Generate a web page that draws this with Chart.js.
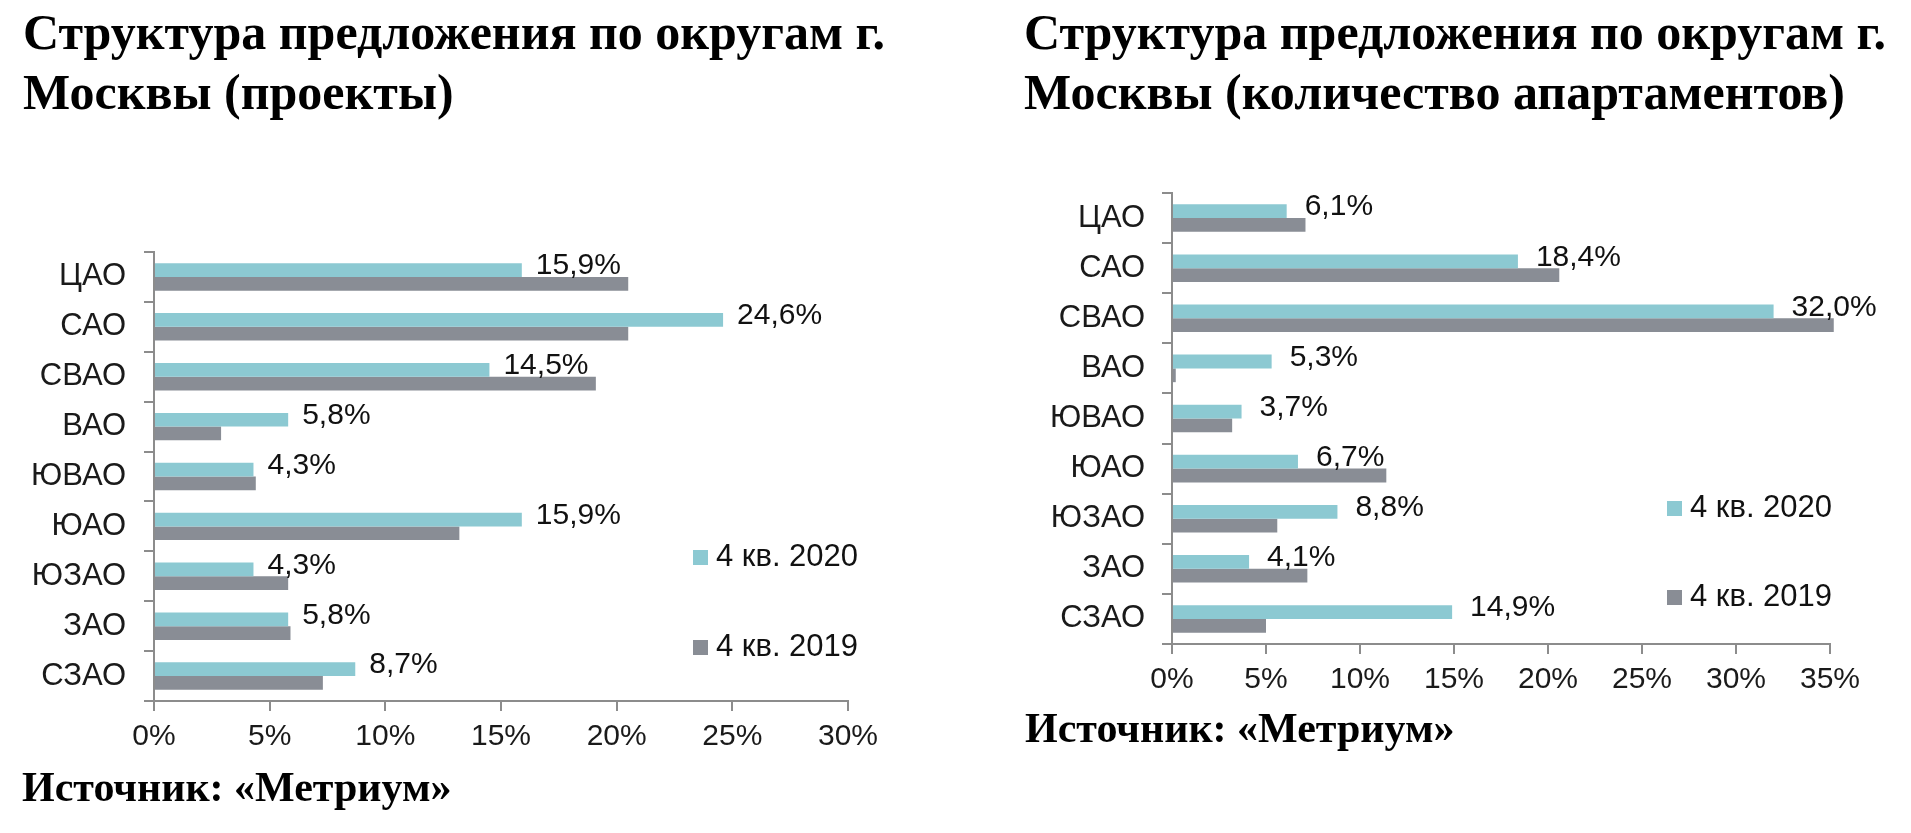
<!DOCTYPE html>
<html>
<head>
<meta charset="utf-8">
<script src="https://cdn.jsdelivr.net/npm/chart.js"></script>
<style>
  body { margin: 0; background: #fff; width: 1911px; height: 833px; position: relative; overflow: hidden; }
  .title, .source {
    position: absolute;
    font-family: "Liberation Serif", "Times New Roman", serif;
    font-weight: bold;
    color: #000;
    white-space: nowrap;
  }
  .title { font-size: 50px; line-height: 60px; }
  .source { font-size: 42px; line-height: 53px; }
  .box { position: absolute; }
</style>
</head>
<body>
<div class="title" style="left:23px; top:2px;">Структура предложения по округам г.<br>Москвы (проекты)</div>
<div class="title" style="left:1024px; top:2px;">Структура предложения по округам г.<br>Москвы (количество апартаментов)</div>

<div class="box" style="left:0; top:200px; width:955px; height:600px;"><canvas id="left"></canvas></div>
<div class="box" style="left:955px; top:140px; width:956px; height:600px;"><canvas id="right"></canvas></div>

<div class="source" style="left:22px; top:761px;">Источник: «Метриум»</div>
<div class="source" style="left:1025px; top:702px;">Источник: «Метриум»</div>

<script>
// districts, top to bottom
const districts = ['ЦАО', 'САО', 'СВАО', 'ВАО', 'ЮВАО', 'ЮАО', 'ЮЗАО', 'ЗАО', 'СЗАО'];
const seriesNames = ['4 кв. 2020', '4 кв. 2019'];

// projects share, %
const projects2020 = [15.9, 24.6, 14.5, 5.8, 4.3, 15.9, 4.3, 5.8, 8.7];
const projects2019 = [20.5, 20.5, 19.1, 2.9, 4.4, 13.2, 5.8, 5.9, 7.3];

// apartments share, %
const apartments2020 = [6.1, 18.4, 32.0, 5.3, 3.7, 6.7, 8.8, 4.1, 14.9];
const apartments2019 = [7.1, 20.6, 35.2, 0.2, 3.2, 11.4, 5.6, 7.2, 5.0];

const projectTicks = [0, 5, 10, 15, 20, 25, 30];
const apartmentTicks = [0, 5, 10, 15, 20, 25, 30, 35];

const cyan = 'rgb(140,201,210)';
const grey = 'rgb(137,141,149)';
const axisGrey = '#8c8c8c';
const font = '"Liberation Sans", Arial, sans-serif';

// value labels for the first (2020) series only
const valueLabels = {
  id: 'valueLabels',
  afterDatasetsDraw(chart, args, opts) {
    const ctx = chart.ctx;
    const meta = chart.getDatasetMeta(0);
    const data = chart.data.datasets[0].data;
    ctx.save();
    ctx.font = '30px ' + font;
    ctx.fillStyle = '#111';
    ctx.textAlign = 'left';
    ctx.textBaseline = 'middle';
    meta.data.forEach((bar, i) => {
      const txt = data[i].toFixed(1).replace('.', ',') + '%';
      ctx.fillText(txt, bar.x + opts.dx, bar.y + opts.dy);
    });
    ctx.restore();
  }
};

// legend drawn inside the plot, items stacked with wide gaps
const innerLegend = {
  id: 'innerLegend',
  afterDraw(chart, args, opts) {
    const ctx = chart.ctx;
    ctx.save();
    ctx.font = '31px ' + font;
    ctx.textAlign = 'left';
    ctx.textBaseline = 'middle';
    chart.data.datasets.forEach((ds, i) => {
      const y = opts.y + i * opts.gap;
      ctx.fillStyle = ds.backgroundColor;
      ctx.fillRect(opts.x, y - 7, 15, 15);
      ctx.fillStyle = '#111';
      ctx.fillText(ds.label, opts.x + 23, y);
    });
    ctx.restore();
  }
};

function makeChart(id, a, b, ticks, box) {
  const maxV = ticks[ticks.length - 1];
  return new Chart(document.getElementById(id), {
    type: 'bar',
    data: {
      labels: districts,
      datasets: [
        { label: seriesNames[0], data: a, backgroundColor: cyan, clip: false },
        { label: seriesNames[1], data: b, backgroundColor: grey, clip: false }
      ]
    },
    options: {
      indexAxis: 'y',
      responsive: true,
      maintainAspectRatio: false,
      devicePixelRatio: 1,
      animation: false,
      categoryPercentage: 0.55,
      barPercentage: 1.0,
      layout: { padding: box.padding },
      plugins: {
        legend: { display: false },
        tooltip: { enabled: false },
        valueLabels: box.labels,
        innerLegend: box.legend
      },
      scales: {
        x: {
          min: 0,
          max: maxV,
          afterBuildTicks: (s) => { s.ticks = ticks.map(v => ({ value: v })); },
          afterFit: (s) => { s.height = 60; },
          grid: { drawOnChartArea: false, tickLength: 10, color: axisGrey, lineWidth: 2 },
          border: { color: axisGrey, width: 2 },
          ticks: {
            padding: 8,
            color: '#1a1a1a',
            font: { family: font, size: 30 },
            callback: (v) => v + '%'
          }
        },
        y: {
          afterFit: (s) => { s.width = box.yWidth; },
          grid: { drawOnChartArea: false, offset: true, tickLength: 10, color: axisGrey, lineWidth: 2 },
          border: { color: axisGrey, width: 2 },
          ticks: {
            padding: box.yPad,
            color: '#1a1a1a',
            font: { family: font, size: 31 }
          }
        }
      }
    },
    plugins: [valueLabels, innerLegend]
  });
}

makeChart('left', projects2020, projects2019, projectTicks, {
  padding: { left: 0, top: 52, right: 107, bottom: 39 },
  yWidth: 154,
  yPad: 18,
  labels: { dx: 14, dy: -4 },
  legend: { x: 693, y: 357, gap: 90 }
});

makeChart('right', apartments2020, apartments2019, apartmentTicks, {
  padding: { left: 0, top: 53, right: 81, bottom: 36 },
  yWidth: 217,
  yPad: 17,
  labels: { dx: 18, dy: -4 },
  legend: { x: 712, y: 368, gap: 89 }
});
</script>
</body>
</html>
